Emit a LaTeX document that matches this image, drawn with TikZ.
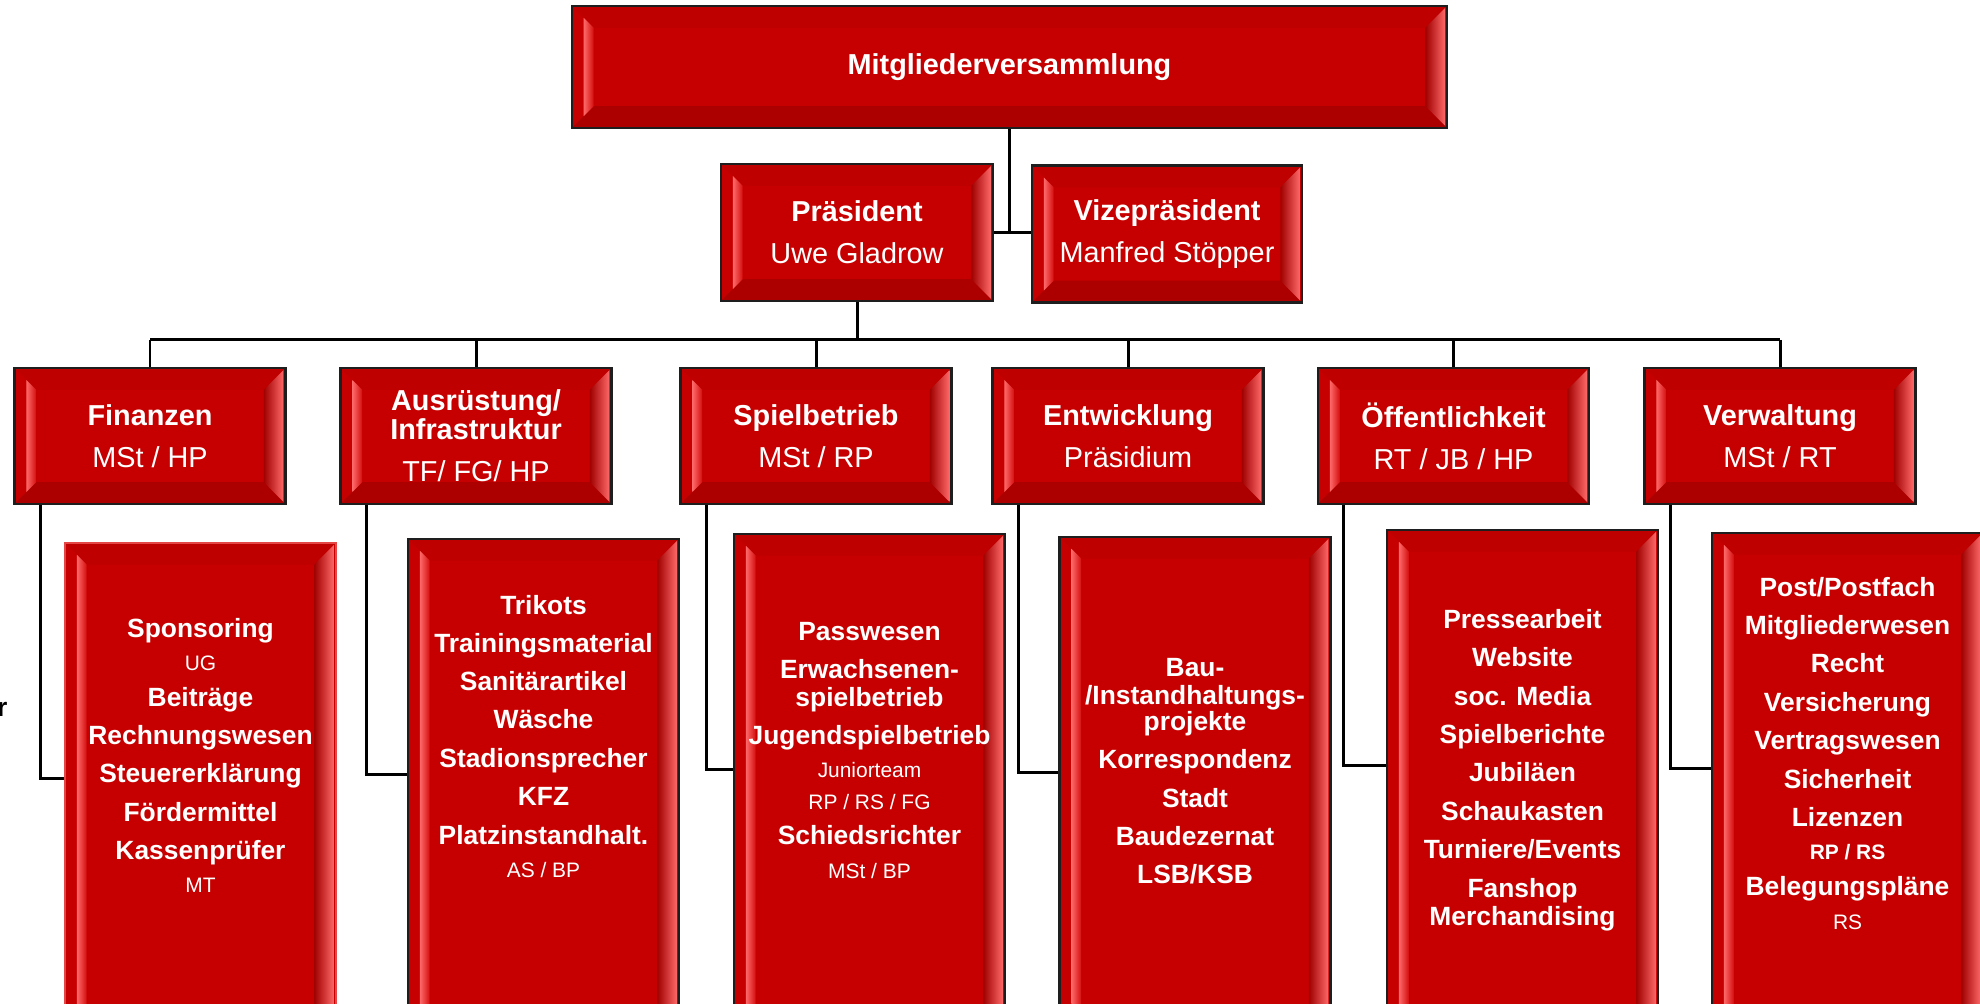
\documentclass[tikz,border=0pt]{standalone}
\usepackage{fontspec}
\setmainfont{Liberation Sans}

\definecolor{boxface}{RGB}{198,0,0}
\definecolor{boxtop}{RGB}{190,0,0}
\definecolor{boxbottom}{RGB}{172,0,0}
\definecolor{bevlight}{RGB}{255,105,105}
\definecolor{bevmid}{RGB}{212,14,14}
\definecolor{bevdark}{RGB}{160,0,0}
\definecolor{boxline}{RGB}{30,30,30}
\definecolor{finline}{RGB}{228,70,70}

\tikzset{
  bevel/.style={rectangle, draw=boxline, line width=0.65pt, fill=boxface,
    inner sep=0pt, text=white, align=center,
    path picture={
      \coordinate (bb-sw) at (path picture bounding box.south west);
      \coordinate (bb-ne) at (path picture bounding box.north east);
      \coordinate (bb-nw) at (path picture bounding box.north west);
      \coordinate (bb-se) at (path picture bounding box.south east);
      \fill[boxtop] (bb-nw) -- (bb-ne) -- ([xshift=-6.2pt,yshift=-6.2pt]bb-ne)
        -- ([xshift=6.2pt,yshift=-6.2pt]bb-nw) -- cycle;
      \fill[boxbottom] (bb-sw) -- (bb-se) -- ([xshift=-6.2pt,yshift=6.2pt]bb-se)
        -- ([xshift=6.2pt,yshift=6.2pt]bb-sw) -- cycle;
      \shade[left color=bevlight, right color=bevmid]
        ([xshift=3.4pt,yshift=3.4pt]bb-sw) -- ([xshift=6.2pt,yshift=6.2pt]bb-sw)
        -- ([xshift=6.2pt,yshift=-6.2pt]bb-nw) -- ([xshift=3.4pt,yshift=-3.4pt]bb-nw) -- cycle;
      \shade[left color=bevdark, right color=bevlight]
        ([xshift=-6.2pt,yshift=6.2pt]bb-se) -- ([xshift=-0.6pt,yshift=0.6pt]bb-se)
        -- ([xshift=-0.6pt,yshift=-0.6pt]bb-ne) -- ([xshift=-6.2pt,yshift=-6.2pt]bb-ne) -- cycle;
    }},
  topbox/.style={bevel, minimum width=8.75cm, minimum height=1.22cm,
    font=\fontsize{8.2pt}{11.9pt}\selectfont},
  headbox/.style={bevel, minimum width=2.71cm, minimum height=1.36cm,
    font=\fontsize{8.2pt}{11.9pt}\selectfont},
  subbox/.style={bevel, minimum width=2.71cm, minimum height=5.2cm},
  bolditem/.style={text=white, inner sep=0pt, text height=5.37pt, text depth=0pt,
    font=\bfseries\fontsize{7.5pt}{8pt}\selectfont},
  smallitem/.style={text=white, inner sep=0pt, text height=4.26pt, text depth=0pt,
    font=\fontsize{5.95pt}{6.5pt}\selectfont},
  smallbold/.style={smallitem, font=\bfseries\fontsize{5.95pt}{6.5pt}\selectfont},
  conn/.style={draw=black, line width=0.85pt}
}

\begin{document}
\begin{tikzpicture}[x=0.01cm, y=-0.01cm]
  \useasboundingbox (0,0) rectangle (1980,1004);
  \clip (0,0) rectangle (1980,1004);

  \node[topbox] (mv) at (1009.5,67) {\textbf{Mitgliederversammlung}};
  \node[headbox, minimum width=2.72cm, minimum height=1.37cm] (praes) at (857,232.5)
    {\textbf{Präsident}\\Uwe Gladrow};
  \node[headbox, minimum width=2.70cm, minimum height=1.37cm] (vize) at (1167,234)
    {\textbf{Vizepräsident}\\Manfred Stöpper};
  \coordinate (bus) at (857,340);

  \node[headbox] (fin) at (150,436) {\textbf{Finanzen}\\MSt / HP};
  \node[headbox] (aus) at (476,436)
    {\textbf{Ausrüstung/}\\[-3.7pt]\textbf{Infrastruktur}\\TF/ FG/ HP};
  \node[headbox] (spiel) at (816,436) {\textbf{Spielbetrieb}\\MSt / RP};
  \node[headbox] (entw) at (1128,436) {\textbf{Entwicklung}\\Präsidium};
  \node[headbox] (oeff) at (1453.5,436) {\textbf{Öffentlichkeit}\\RT / JB / HP};
  \node[headbox] (verw) at (1780,436) {\textbf{Verwaltung}\\MSt / RT};

  \node[subbox, draw=finline, line width=0.4pt] (fin-sub) at (200.5,803) {};
  \node[subbox] (aus-sub) at (543.5,799) {};
  \node[subbox] (spiel-sub) at (869.5,794) {};
  \node[subbox] (entw-sub) at (1195,797) {};
  \node[subbox] (oeff-sub) at (1522.5,790) {};
  \node[subbox] (verw-sub) at (1847.5,793) {};

  \node[bolditem, text=black, anchor=east] (cut) at (8,707) {r};

  \begin{scope}[conn]
    \draw (mv) -- (mv |- praes.east);
    \draw (praes) -- (praes -| vize.west);
    \draw (praes) -- (bus);
    \draw (fin |- bus) -- (verw |- bus);
    \foreach \n in {fin,aus,spiel,entw,oeff,verw}
      \draw (\n |- bus) -- (\n);
    \foreach \n in {fin,aus,spiel,entw,oeff,verw}
      \draw ([xshift=7.6pt]\n.south west) |- ([yshift=7.1pt]\n-sub.west);
  \end{scope}

  \foreach \y/\txt/\st [count=\i] in {628/Sponsoring/bolditem, 663/UG/smallitem,
      697/Beiträge/bolditem, 735/Rechnungswesen/bolditem, 773/Steuererklärung/bolditem,
      812/Fördermittel/bolditem, 850/Kassenprüfer/bolditem, 885/MT/smallitem}
    \node[\st] (fin-\i) at (200.5,\y) {\txt};

  \foreach \y/\txt/\st [count=\i] in {605/Trikots/bolditem, 643/Trainingsmaterial/bolditem,
      681/Sanitärartikel/bolditem, 719/Wäsche/bolditem, 758/Stadionsprecher/bolditem,
      796/KFZ/bolditem, 835/Platzinstandhalt./bolditem, 870/{AS / BP}/smallitem}
    \node[\st] (aus-\i) at (543.5,\y) {\txt};

  \foreach \y/\txt/\st [count=\i] in {631/Passwesen/bolditem, 669/Erwachsenen-/bolditem,
      697/spielbetrieb/bolditem, 735/Jugendspielbetrieb/bolditem, 770/Juniorteam/smallitem,
      802/{RP / RS / FG}/smallitem, 835/Schiedsrichter/bolditem, 871/{MSt / BP}/smallitem}
    \node[\st] (spiel-\i) at (869.5,\y) {\txt};

  \foreach \y/\txt [count=\i] in {667/Bau-, 695/{/Instandhaltungs-}, 721/projekte,
      759/Korrespondenz, 798/Stadt, 836/Baudezernat, 874/{LSB/KSB}}
    \node[bolditem] (entw-\i) at (1195,\y) {\txt};

  \foreach \y/\txt [count=\i] in {619/Pressearbeit, 657/Website, 696/soc. Media,
      734/Spielberichte, 772/Jubiläen, 811/Schaukasten, 849/{Turniere/Events},
      888/Fanshop, 916/Merchandising}
    \node[bolditem] (oeff-\i) at (1522.5,\y) {\txt};

  \foreach \y/\txt/\st [count=\i] in {587/{Post/Postfach}/bolditem, 625/Mitgliederwesen/bolditem,
      663/Recht/bolditem, 702/Versicherung/bolditem, 740/Vertragswesen/bolditem,
      779/Sicherheit/bolditem, 817/Lizenzen/bolditem, 852/{RP / RS}/smallbold,
      886/Belegungspläne/bolditem, 922/RS/smallitem}
    \node[\st] (verw-\i) at (1847.5,\y) {\txt};
\end{tikzpicture}
\end{document}
